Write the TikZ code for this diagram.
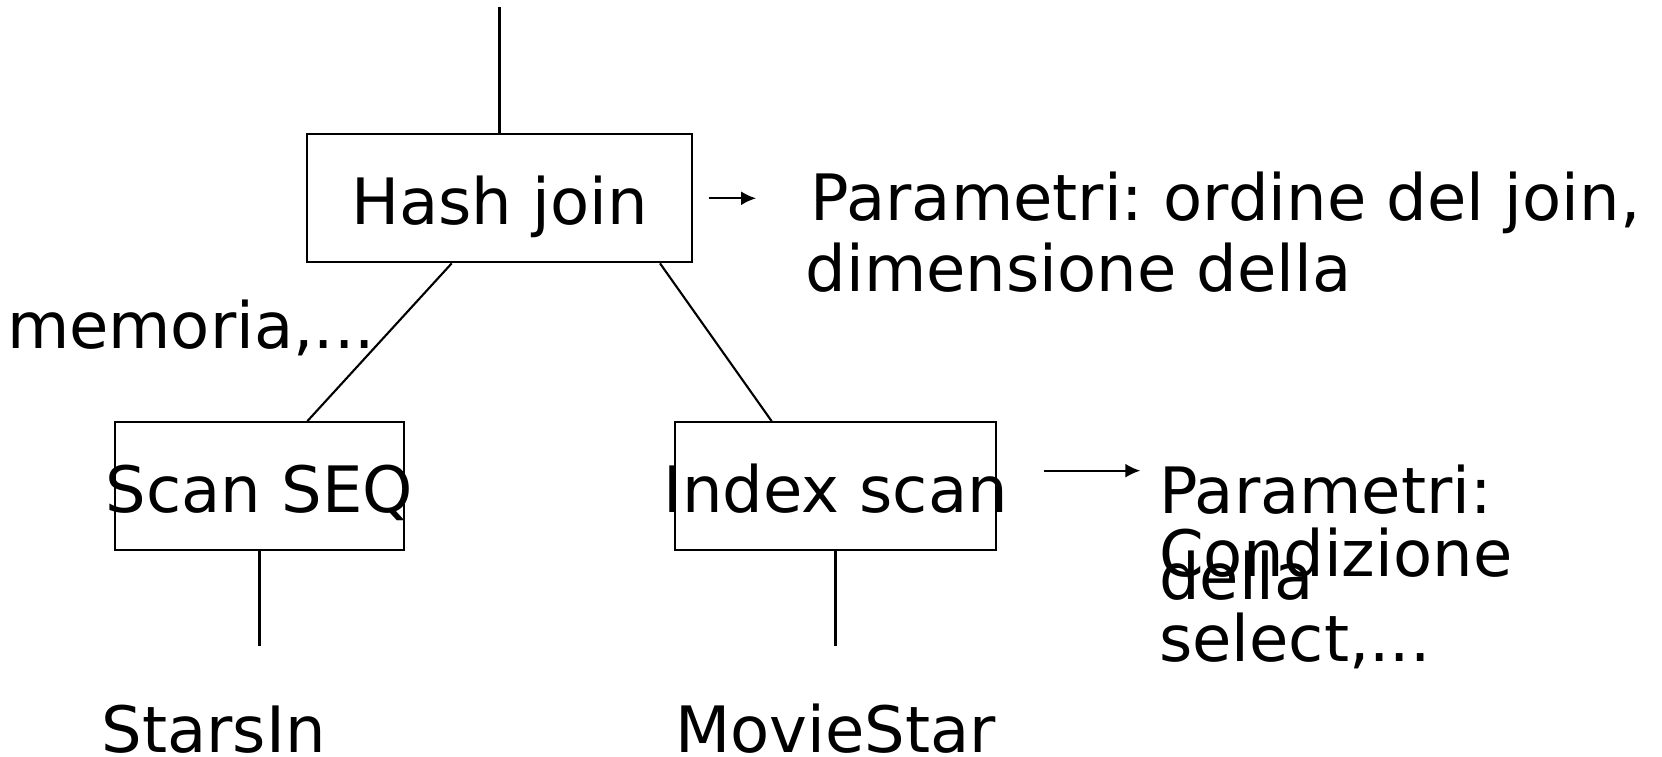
\documentclass[tikz,border=0pt]{standalone}
\usepackage{fontspec}
\setmainfont{DejaVu Sans}
\frenchspacing
\usetikzlibrary{arrows.meta}
\tikzset{
  opbox/.style={draw, line width=0.6pt, minimum height=1.28cm, inner sep=0pt},
  optext/.style={font=\fontsize{18.2}{21}\selectfont, text height=0.64cm, text depth=0.12cm, inner sep=0pt},
  txt/.style={font=\fontsize{18.2}{21}\selectfont, anchor=base west, inner sep=0pt},
  edge/.style={line width=0.6pt},
  parr/.style={line width=0.6pt, -{Latex[length=0.15cm,width=0.14cm]}}
}
\begin{document}
\begin{tikzpicture}
\useasboundingbox (0,0) rectangle (16.62,7.57);

% operators
\node[opbox, minimum width=3.85cm, label={[optext]center:Hash join}] (hash) at (4.995,5.587) {};
\node[opbox, minimum width=2.89cm, label={[optext]center:Scan SEQ}] (scan) at (2.595,2.707) {};
\node[opbox, minimum width=3.204cm, label={[optext]center:Index scan}] (index) at (8.355,2.707) {};

\coordinate (top) at (4.995,7.50);
\coordinate (scanend) at (2.595,1.11);
\coordinate (indexend) at (8.355,1.11);

\draw[edge] (hash.north) -- (top);
\draw[edge] ([xshift=-0.478cm]hash.south) -- ([xshift=0.478cm]scan.north);
\draw[edge] ([xshift=1.605cm]hash.south) -- ([xshift=-0.638cm]index.north);
\draw[edge] (scan.south) -- (scanend);
\draw[edge] (index.south) -- (indexend);

% parameters
\draw[parr] ([xshift=1.57mm]hash.east) -- ++(4.73mm,0);
\draw[parr] ([shift={(4.76mm,1.56mm)}]index.east) -- ++(9.6mm,0);

\node[txt] (hjpar1) at (8.10,5.36) {Parametri: ordine del join,};
\node[txt] (hjpar2) at (8.05,4.653) {dimensione della};
\node[txt] (hjpar3) at (0.063,4.087) {memoria,...};

\node[txt] (ispar1) at (11.585,2.437) {Parametri:};
\node[txt] (ispar2) at (11.585,1.803) {Condizione};
\node[txt] (ispar3) at (11.585,1.577) {della};
\node[txt] (ispar4) at (11.585,0.953) {select,...};

% relations
\node[txt] (starsin) at (1.01,0.047) {StarsIn};
\node[txt] (moviestar) at (6.744,0.047) {MovieStar};

\end{tikzpicture}
\end{document}
